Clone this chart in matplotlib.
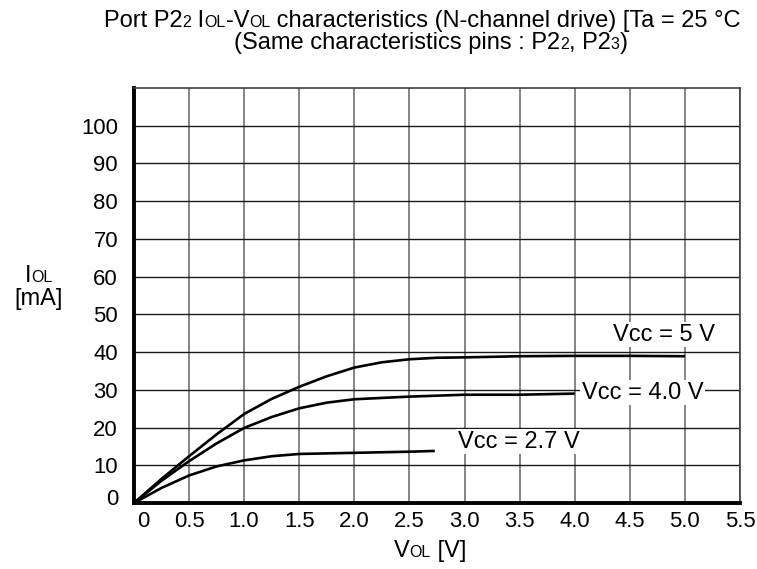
import matplotlib
matplotlib.use("Agg")
import matplotlib.pyplot as plt
import matplotlib.transforms as mtransforms

plt.rcParams["font.family"] = ["Liberation Sans", "DejaVu Sans"]

FS_TICK = 15.9   # tick labels
FS = 17.0        # title, curve labels, axis labels
SMALL = 0.68 * FS

# IOL-VOL curves
vol_5v = [0, 0.25, 0.5, 0.75, 1.0, 1.25, 1.5, 1.75, 2.0, 2.25, 2.5, 2.75, 3.0, 3.5, 4.0, 4.5, 5.0]
iol_5v = [0, 6.4, 12.4, 18.2, 23.6, 27.6, 30.8, 33.6, 35.9, 37.3, 38.1, 38.5, 38.6, 38.9, 39.0, 39.0, 38.9]

vol_4v = [0, 0.25, 0.5, 0.75, 1.0, 1.25, 1.5, 1.75, 2.0, 2.5, 3.0, 3.5, 4.0]
iol_4v = [0, 5.9, 11.1, 15.8, 19.9, 22.8, 25.1, 26.6, 27.5, 28.2, 28.7, 28.7, 29.0]

vol_27 = [0, 0.25, 0.5, 0.75, 1.0, 1.25, 1.5, 2.0, 2.5, 2.73]
iol_27 = [0, 4.0, 7.3, 9.7, 11.3, 12.4, 13.0, 13.3, 13.6, 13.8]

curve_labels = ["Vcc = 5 V", "Vcc = 4.0 V", "Vcc = 2.7 V"]
label_x = [4.81, 4.615, 3.49]
label_y = [44.6, 29.2, 16.3]

x_ticks = [0, 0.5, 1.0, 1.5, 2.0, 2.5, 3.0, 3.5, 4.0, 4.5, 5.0, 5.5]
x_ticklabels = ["0", "0.5", "1.0", "1.5", "2.0", "2.5", "3.0", "3.5", "4.0", "4.5", "5.0", "5.5"]
y_ticks = [0, 10, 20, 30, 40, 50, 60, 70, 80, 90, 100]


def piece_width(fig, s, size):
    r = fig.canvas.get_renderer()
    t1 = fig.text(0, 0, "|" + s + "|", fontsize=size)
    t2 = fig.text(0, 0, "||", fontsize=size)
    w = t1.get_window_extent(r).width - t2.get_window_extent(r).width
    t1.remove()
    t2.remove()
    return w


def rich_text(fig, x, y, pieces, ha="left"):
    # x, y: pixels from the top-left corner, y is the baseline
    W, H = fig.bbox.width, fig.bbox.height
    widths = [piece_width(fig, s, sz) for s, sz in pieces]
    x0 = x - sum(widths) / 2 if ha == "center" else x
    for (s, sz), w in zip(pieces, widths):
        fig.text(x0 / W, 1 - y / H, s, fontsize=sz, va="baseline", ha="left")
        x0 += w


fig = plt.figure(figsize=(7.57, 5.69), dpi=100)
ax = fig.add_axes([134 / 757, 1 - 503 / 569, (740 - 134) / 757, (503 - 88) / 569])

for xs, ys in ((vol_5v, iol_5v), (vol_4v, iol_4v), (vol_27, iol_27)):
    ax.plot(xs, ys, color="black", lw=1.9, solid_capstyle="butt", zorder=3)

for s, lx, ly in zip(curve_labels, label_x, label_y):
    ax.text(lx, ly, s, fontsize=FS, ha="center", va="center", zorder=4,
            bbox=dict(facecolor="white", edgecolor="none", pad=1.0))

ax.set_xlim(0, 5.5)
ax.set_ylim(0, 110)
ax.set_xticks(x_ticks)
ax.set_xticklabels(x_ticklabels)
ax.set_yticks(y_ticks)
ax.tick_params(axis="both", length=0, labelsize=FS_TICK)
ax.tick_params(axis="y", pad=11.5)
ax.tick_params(axis="x", pad=6.0)
ax.xaxis.grid(True, color="#707070", lw=1.2)
ax.yaxis.grid(True, color="#1a1a1a", lw=1.0)
ax.set_axisbelow(True)
for side in ("left", "bottom"):
    ax.spines[side].set_linewidth(2.8)
    ax.spines[side].set_color("black")
for side in ("top", "right"):
    ax.spines[side].set_linewidth(1.2)
    ax.spines[side].set_color("#404040")

# the two "0" labels sit a little off the origin in the original
lbl = ax.get_xticklabels()[0]
lbl.set_transform(lbl.get_transform() + mtransforms.ScaledTranslation(0.09, 0, fig.dpi_scale_trans))
lbl = ax.get_yticklabels()[0]
lbl.set_transform(lbl.get_transform() + mtransforms.ScaledTranslation(0, 0.06, fig.dpi_scale_trans))

# title, two lines (first line reaches the right edge in the original)
rich_text(fig, 104, 27, [("Port P2", FS), ("2", SMALL), (" I", FS), ("OL", SMALL),
                          ("-V", FS), ("OL", SMALL),
                          (" characteristics (N-channel drive) [Ta = 25 °C", FS)])
rich_text(fig, 431, 49, [("(Same characteristics pins : P2", FS), ("2", SMALL),
                          (", P2", FS), ("3", SMALL), (")", FS)], ha="center")

# axis labels
rich_text(fig, 39, 282, [("I", FS), ("OL", SMALL)], ha="center")
rich_text(fig, 39, 305, [("[mA]", FS)], ha="center")
rich_text(fig, 430, 557, [("V", FS), ("OL", SMALL), (" [V]", FS)], ha="center")

fig.savefig("out.png", dpi=100)
